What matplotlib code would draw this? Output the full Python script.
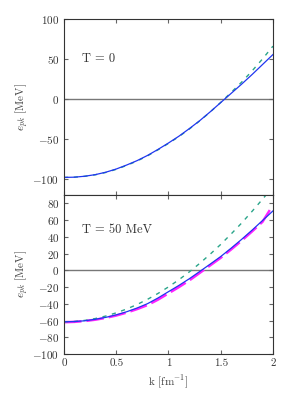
import matplotlib
matplotlib.use('Agg')
import matplotlib.pyplot as plt
import numpy as np

k = [0.0, 0.1, 0.2, 0.3, 0.4, 0.5, 0.6, 0.7, 0.8, 0.9, 1.0,
     1.1, 1.2, 1.3, 1.4, 1.5, 1.6, 1.7, 1.8, 1.9, 2.0]

# T = 0
t0_blue = [-98, -97.7, -96.5, -94.5, -91.5, -87.5, -82.5, -77, -70.5, -63, -55,
           -46.5, -37, -27, -16, -4.5, 7, 18.5, 30.5, 43, 55.5]
t0_green = [-98, -97.7, -96.6, -94.7, -91.8, -87.9, -83, -77.5, -71, -63.5, -55.5,
            -47, -37.5, -27.3, -16.2, -4.3, 8.2, 21, 35, 50, 66]

# T = 50 MeV
t50_blue = [-61.5, -61.2, -60.3, -58.5, -56.2, -53.2, -49.5, -45, -39.8, -33, -25.5,
            -18, -10, -1.3, 7.5, 16.5, 26.5, 37, 48, 59.5, 71]
k_mag = k[:-1] + [1.97]
t50_magenta = [-62, -61.6, -60.6, -59, -56.8, -54, -50.5, -46.3, -41.5, -35, -27.5,
               -20, -12, -3, 6, 15, 25, 35.5, 46.5, 58, 72]
t50_green = [-61.5, -61.1, -59.8, -57.6, -54.6, -50.8, -46.2, -40.8, -34.6, -27.6, -19.8,
             -11.2, -1.8, 8.4, 19.4, 31, 43.5, 56.5, 70.5, 85, 100]

plt.rcParams['font.family'] = 'cmr10'
plt.rcParams['mathtext.fontset'] = 'cm'
plt.rcParams['axes.formatter.use_mathtext'] = True
plt.rcParams['font.size'] = 8

fig = plt.figure(figsize=(2.89, 3.94), dpi=100)
ax1 = fig.add_axes([0.2215, 0.505, 0.723, 0.447])
ax2 = fig.add_axes([0.2215, 0.1015, 0.723, 0.4035])

green = '#2aa58a'
blue = '#2036f0'

for ax in (ax1, ax2):
    ax.axhline(0, color='#777777', lw=1, zorder=1)
    ax.set_xlim(0, 2)
    ax.tick_params(direction='in', top=True, right=True, length=3,
                   color='#666666', labelcolor='#333333', labelsize=8)
    for s in ax.spines.values():
        s.set_color('#333333')
    ax.set_ylabel(r'$e_{pk}$ [MeV]', color='#444444', fontsize=8, labelpad=1)

ax1.plot(k, t0_green, '--', color=green, lw=1, dashes=(3, 4))
ax1.plot(k, t0_blue, '-', color=blue, lw=0.9)
ax1.set_ylim(-120, 100)
ax1.set_yticks([-100, -50, 0, 50, 100])
ax1.set_xticks([0, 0.5, 1, 1.5, 2])
ax1.tick_params(labelbottom=False)
ax1.text(0.086, 0.77, 'T = 0', transform=ax1.transAxes, fontsize=9,
         color='#333333', va='center')

ax2.plot(k_mag, t50_magenta, color='#ff22ff', lw=1.8, dashes=(7, 2))
ax2.plot(k, t50_green, '--', color=green, lw=1, dashes=(3, 4))
ax2.plot(k, t50_blue, '-', color=blue, lw=0.9)
ax2.set_ylim(-100, 90)
ax2.set_yticks(np.arange(-100, 81, 20))
ax2.set_xticks([0, 0.5, 1, 1.5, 2])
ax2.set_xticklabels(['0', '0.5', '1', '1.5', '2'])
ax2.set_xlabel(r'k [fm$^{-1}$]', color='#444444', fontsize=8)
ax2.text(0.086, 0.78, 'T = 50 MeV', transform=ax2.transAxes, fontsize=9,
         color='#333333', va='center')

fig.align_ylabels([ax1, ax2])
fig.savefig('out.png', dpi=100)
